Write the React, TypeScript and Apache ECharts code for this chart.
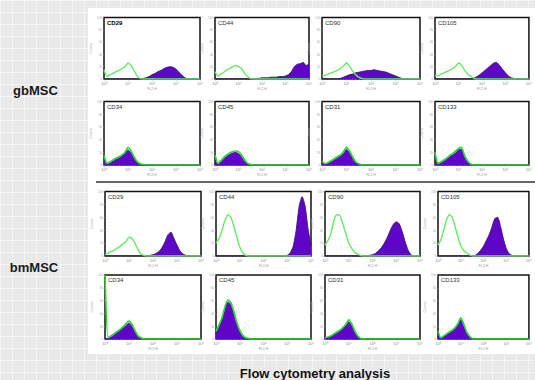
import React, { useEffect, useRef } from 'react';
import * as echarts from 'echarts';

// log10 fluorescence bins (decades 10^0 .. 10^4)
const X_BINS = [0, 0.125, 0.25, 0.375, 0.5, 0.625, 0.75, 0.875, 1, 1.125, 1.25, 1.375, 1.5, 1.625, 1.75, 1.875, 2, 2.125, 2.25, 2.375, 2.5, 2.625, 2.75, 2.875, 3, 3.125, 3.25, 3.375, 3.5, 3.625, 3.75, 3.875, 4];
const X_TICK_LABELS = ['10⁰', '10¹', '10²', '10³', '10⁴'];
const GROUPS = ['gbMSC', 'bmMSC'];
const POSITIVE_MARKERS = ['CD29', 'CD44', 'CD90', 'CD105'];
const NEGATIVE_MARKERS = ['CD34', 'CD45', 'CD31', 'CD133'];
const TITLE = 'Flow cytometry analysis';

// gbMSC – positive markers (green = isotype control, purple = marker)
const gbCD29Control = [15, 4, 7, 9, 12, 14, 17, 20, 26, 22, 14, 5, 1, 0, 0, 0, 0, 0, 0, 0, 0, 0, 0, 0, 0, 0, 0, 0, 0, 0, 0, 0, 0];
const gbCD29Marker = [0, 0, 0, 0, 0, 0, 0, 0, 0, 0, 0, 0, 0, 1, 2, 4, 7, 9, 12, 14, 17, 19, 20, 19, 16, 11, 6, 2, 0, 0, 0, 0, 0];
const gbCD44Control = [12, 5, 8, 11, 15, 17, 20, 22, 20, 17, 10, 4, 1, 0, 0, 0, 0, 0, 0, 0, 0, 0, 0, 0, 0, 0, 0, 0, 0, 0, 0, 0, 0];
const gbCD44Marker = [0, 0, 0, 0, 0, 0, 0, 0, 0, 0, 0, 0, 0, 0, 1, 1, 2, 2, 2, 3, 3, 3, 4, 4, 5, 7, 12, 20, 24, 25, 27, 22, 24];
const gbCD90Control = [5, 6, 8, 10, 12, 14, 17, 21, 26, 21, 13, 7, 3, 1, 0, 0, 0, 0, 0, 0, 0, 0, 0, 0, 0, 0, 0, 0, 0, 0, 0, 0, 0];
const gbCD90Marker = [0, 0, 0, 0, 0, 0, 1, 3, 5, 7, 8, 10, 11, 12, 13, 14, 14, 15, 14, 13, 12, 11, 9, 7, 5, 3, 1, 0, 0, 0, 0, 0, 0];
const gbCD105Control = [6, 5, 8, 10, 12, 14, 17, 20, 26, 23, 15, 9, 5, 2, 0, 0, 0, 0, 0, 0, 0, 0, 0, 0, 0, 0, 0, 0, 0, 0, 0, 0, 0];
const gbCD105Marker = [0, 0, 0, 0, 0, 0, 0, 0, 0, 0, 0, 0, 0, 1, 3, 6, 10, 14, 18, 22, 26, 27, 22, 16, 10, 5, 2, 1, 0, 0, 0, 0, 0];

// gbMSC – negative markers
const gbCD34Control = [15, 3, 5, 8, 11, 13, 16, 20, 28, 22, 13, 6, 2, 1, 0, 0, 0, 0, 0, 0, 0, 0, 0, 0, 0, 0, 0, 0, 0, 0, 0, 0, 0];
const gbCD34Marker = [8, 1, 3, 6, 9, 11, 14, 18, 24, 19, 11, 4, 1, 0, 0, 0, 0, 0, 0, 0, 0, 0, 0, 0, 0, 0, 0, 0, 0, 0, 0, 0, 0];
const gbCD45Control = [16, 3, 7, 12, 16, 19, 21, 22, 21, 16, 9, 3, 1, 0, 0, 0, 0, 0, 0, 0, 0, 0, 0, 0, 0, 0, 0, 0, 0, 0, 0, 0, 0];
const gbCD45Marker = [8, 1, 5, 10, 14, 17, 19, 20, 18, 13, 6, 2, 0, 0, 0, 0, 0, 0, 0, 0, 0, 0, 0, 0, 0, 0, 0, 0, 0, 0, 0, 0, 0];
const gbCD31Control = [6, 2, 4, 7, 10, 13, 16, 21, 28, 22, 13, 5, 2, 0, 0, 0, 0, 0, 0, 0, 0, 0, 0, 0, 0, 0, 0, 0, 0, 0, 0, 0, 0];
const gbCD31Marker = [3, 1, 3, 5, 8, 11, 14, 18, 25, 19, 10, 3, 1, 0, 0, 0, 0, 0, 0, 0, 0, 0, 0, 0, 0, 0, 0, 0, 0, 0, 0, 0, 0];
const gbCD133Control = [20, 3, 5, 8, 11, 15, 18, 22, 26, 28, 16, 7, 2, 0, 0, 0, 0, 0, 0, 0, 0, 0, 0, 0, 0, 0, 0, 0, 0, 0, 0, 0, 0];
const gbCD133Marker = [12, 1, 3, 6, 9, 13, 16, 19, 24, 25, 13, 5, 1, 0, 0, 0, 0, 0, 0, 0, 0, 0, 0, 0, 0, 0, 0, 0, 0, 0, 0, 0, 0];

// bmMSC – positive markers
const bmCD29Control = [2, 4, 7, 9, 12, 15, 19, 23, 29, 27, 20, 10, 3, 1, 0, 0, 0, 0, 0, 0, 0, 0, 0, 0, 0, 0, 0, 0, 0, 0, 0, 0, 0];
const bmCD29Marker = [0, 0, 0, 0, 0, 0, 0, 0, 0, 0, 0, 0, 0, 0, 0, 1, 2, 4, 7, 13, 22, 33, 37, 27, 17, 8, 3, 1, 0, 0, 0, 0, 0];
const bmCD44Control = [20, 27, 40, 55, 64, 60, 46, 30, 14, 5, 1, 0, 0, 0, 0, 0, 0, 0, 0, 0, 0, 0, 0, 0, 0, 0, 0, 0, 0, 0, 0, 0, 0];
const bmCD44Marker = [0, 0, 0, 0, 0, 0, 0, 0, 0, 0, 0, 0, 0, 0, 0, 0, 0, 0, 0, 0, 0, 0, 0, 0, 1, 5, 15, 40, 77, 92, 78, 42, 17];
const bmCD90Control = [17, 24, 35, 55, 64, 63, 50, 35, 20, 12, 6, 3, 1, 0, 0, 0, 0, 0, 0, 0, 0, 0, 0, 0, 0, 0, 0, 0, 0, 0, 0, 0, 0];
const bmCD90Marker = [0, 0, 0, 0, 0, 0, 0, 0, 0, 0, 0, 0, 0, 0, 0, 1, 2, 4, 8, 13, 20, 29, 40, 49, 53, 50, 38, 22, 9, 2, 0, 0, 0];
const bmCD105Control = [17, 25, 40, 56, 64, 60, 46, 30, 16, 9, 5, 2, 0, 0, 0, 0, 0, 0, 0, 0, 0, 0, 0, 0, 0, 0, 0, 0, 0, 0, 0, 0, 0];
const bmCD105Marker = [0, 0, 0, 0, 0, 0, 0, 0, 0, 0, 0, 0, 0, 1, 4, 9, 15, 24, 33, 45, 58, 60, 46, 27, 12, 4, 1, 0, 0, 0, 0, 0, 0];

// bmMSC – negative markers
const bmCD34Control = [100, 2, 5, 8, 12, 15, 19, 24, 28, 23, 13, 5, 2, 0, 0, 0, 0, 0, 0, 0, 0, 0, 0, 0, 0, 0, 0, 0, 0, 0, 0, 0, 0];
const bmCD34Marker = [0, 1, 3, 6, 10, 13, 17, 21, 25, 20, 11, 4, 1, 0, 0, 0, 0, 0, 0, 0, 0, 0, 0, 0, 0, 0, 0, 0, 0, 0, 0, 0, 0];
const bmCD45Control = [12, 22, 33, 50, 61, 57, 43, 26, 14, 6, 2, 1, 0, 0, 0, 0, 0, 0, 0, 0, 0, 0, 0, 0, 0, 0, 0, 0, 0, 0, 0, 0, 0];
const bmCD45Marker = [8, 19, 30, 47, 58, 54, 40, 23, 11, 4, 1, 0, 0, 0, 0, 0, 0, 0, 0, 0, 0, 0, 0, 0, 0, 0, 0, 0, 0, 0, 0, 0, 0];
const bmCD31Control = [2, 3, 5, 8, 11, 14, 18, 23, 30, 24, 13, 5, 1, 0, 0, 0, 0, 0, 0, 0, 0, 0, 0, 0, 0, 0, 0, 0, 0, 0, 0, 0, 0];
const bmCD31Marker = [1, 2, 4, 7, 9, 12, 16, 21, 27, 21, 10, 3, 0, 0, 0, 0, 0, 0, 0, 0, 0, 0, 0, 0, 0, 0, 0, 0, 0, 0, 0, 0, 0];
const bmCD133Control = [12, 2, 5, 8, 11, 14, 18, 24, 33, 24, 12, 5, 1, 0, 0, 0, 0, 0, 0, 0, 0, 0, 0, 0, 0, 0, 0, 0, 0, 0, 0, 0, 0];
const bmCD133Marker = [7, 1, 4, 7, 10, 12, 16, 22, 30, 21, 10, 3, 0, 0, 0, 0, 0, 0, 0, 0, 0, 0, 0, 0, 0, 0, 0, 0, 0, 0, 0, 0, 0];

const PANEL_ROWS = [
  { markers: POSITIVE_MARKERS, controls: [gbCD29Control, gbCD44Control, gbCD90Control, gbCD105Control], stains: [gbCD29Marker, gbCD44Marker, gbCD90Marker, gbCD105Marker], negative: false },
  { markers: NEGATIVE_MARKERS, controls: [gbCD34Control, gbCD45Control, gbCD31Control, gbCD133Control], stains: [gbCD34Marker, gbCD45Marker, gbCD31Marker, gbCD133Marker], negative: true },
  { markers: POSITIVE_MARKERS, controls: [bmCD29Control, bmCD44Control, bmCD90Control, bmCD105Control], stains: [bmCD29Marker, bmCD44Marker, bmCD90Marker, bmCD105Marker], negative: false },
  { markers: NEGATIVE_MARKERS, controls: [bmCD34Control, bmCD45Control, bmCD31Control, bmCD133Control], stains: [bmCD34Marker, bmCD45Marker, bmCD31Marker, bmCD133Marker], negative: true },
];

// layout (pixels)
const COLS_TOP = [{ l: 104, w: 96 }, { l: 215, w: 94 }, { l: 322, w: 98 }, { l: 435, w: 97 }];
const COLS_BOT = [{ l: 105, w: 96 }, { l: 216, w: 95 }, { l: 325, w: 95 }, { l: 438, w: 95 }];
const ROWS = [{ t: 17.5, h: 61.5 }, { t: 101.5, h: 63.5 }, { t: 191.5, h: 64.5 }, { t: 275, h: 64 }];

const FONT = '"Liberation Sans", Arial, sans-serif';
const PURPLE = '#5f05c8';
const PURPLE_EDGE = '#3a1470';
const GREEN_POS = '#66ea66';
const GREEN_NEG = '#22e022';

export default function App() {
  const ref = useRef<HTMLDivElement>(null);

  useEffect(() => {
    if (!ref.current) return;
    const chart = echarts.init(ref.current, undefined, { renderer: 'svg', width: 535, height: 380 });

    const grids: any[] = [];
    const xAxes: any[] = [];
    const yAxes: any[] = [];
    const series: any[] = [];
    const graphics: any[] = [
      { type: 'rect', z: -100, shape: { x: 88, y: 8, width: 447, height: 346 }, style: { fill: '#ffffff' } },
      { type: 'line', z: 10, shape: { x1: 96, y1: 182, x2: 535, y2: 182 }, style: { stroke: '#333', lineWidth: 1.5 } },
      { type: 'text', z: 10, x: 35.5, y: 90, style: { text: GROUPS[0], font: `bold 13px ${FONT}`, fill: '#1a1a1a', align: 'center', verticalAlign: 'middle', textAlign: 'center', textVerticalAlign: 'middle' } },
      { type: 'text', z: 10, x: 34, y: 267, style: { text: GROUPS[1], font: `bold 13px ${FONT}`, fill: '#1a1a1a', align: 'center', verticalAlign: 'middle', textAlign: 'center', textVerticalAlign: 'middle' } },
      { type: 'text', z: 10, x: 315, y: 373, style: { text: TITLE, font: `bold 13px ${FONT}`, fill: '#111', align: 'center', verticalAlign: 'middle', textAlign: 'center', textVerticalAlign: 'middle' } },
    ];

    PANEL_ROWS.forEach((row, r) => {
      const cols = r < 2 ? COLS_TOP : COLS_BOT;
      row.markers.forEach((marker, c) => {
        const idx = grids.length;
        const { l, w } = cols[c];
        const { t, h } = ROWS[r];
        grids.push({ left: l, top: t, width: w, height: h, show: true, borderColor: '#111', borderWidth: 1.5, backgroundColor: 'transparent', containLabel: false });
        xAxes.push({
          gridIndex: idx, type: 'value', min: 0, max: 4, interval: 1,
          name: 'FL2-H', nameLocation: 'middle', nameGap: 8,
          nameTextStyle: { fontSize: 3.5, color: '#999', fontFamily: FONT },
          axisLine: { show: false },
          axisTick: { show: true, length: 1.5, lineStyle: { color: '#888', width: 0.6 } },
          minorTick: { show: true, splitNumber: 8, length: 1, lineStyle: { color: '#888', width: 0.5 } },
          splitLine: { show: false },
          axisLabel: { fontSize: 4, color: '#888', margin: 2.5, fontFamily: FONT, formatter: (v: number) => X_TICK_LABELS[Math.round(v)] ?? '' },
        });
        yAxes.push({
          gridIndex: idx, type: 'value', min: 0, max: 100, interval: 20,
          name: 'Counts', nameLocation: 'middle', nameGap: 7, nameRotate: 90,
          nameTextStyle: { fontSize: 3.5, color: '#aaa', fontFamily: FONT },
          axisLine: { show: false },
          axisTick: { show: true, length: 1.5, lineStyle: { color: '#999', width: 0.6 } },
          splitLine: { show: false },
          axisLabel: { fontSize: 3, color: '#aaa', margin: 2, fontFamily: FONT },
        });
        const control = row.controls[c];
        const stain = row.stains[c];
        series.push({
          type: 'line', xAxisIndex: idx, yAxisIndex: idx, symbol: 'none', silent: true, z: 2, smooth: 0.2,
          data: X_BINS.map((x, i) => [x, stain[i]]),
          lineStyle: { color: row.negative ? PURPLE : PURPLE_EDGE, width: 0.9 },
          areaStyle: { color: PURPLE, opacity: 1 },
        });
        series.push({
          type: 'line', xAxisIndex: idx, yAxisIndex: idx, symbol: 'none', silent: true, z: 3, smooth: 0.2,
          data: X_BINS.map((x, i) => [x, control[i]]),
          lineStyle: { color: row.negative ? GREEN_NEG : GREEN_POS, width: row.negative ? 1.6 : 1.4 },
        });
        const bold = r === 0 && c === 0;
        graphics.push({
          type: 'text', z: 10, x: l + 3, y: t + 5,
          style: { text: marker, font: `${bold ? 'bold ' : ''}6px ${FONT}`, fill: bold ? '#000' : '#333', align: 'left', verticalAlign: 'middle', textAlign: 'left', textVerticalAlign: 'middle' },
        });
      });
    });

    chart.setOption({
      animation: false,
      backgroundColor: 'transparent',
      grid: grids,
      xAxis: xAxes,
      yAxis: yAxes,
      series,
      graphic: { elements: graphics },
    });

    return () => chart.dispose();
  }, []);

  return (
    <div
      style={{
        position: 'fixed', left: 0, top: 0, width: 535, height: 380,
        backgroundColor: '#e9e9e9',
        backgroundImage: 'linear-gradient(to right, rgba(255,255,255,0.55) 1px, transparent 1px), linear-gradient(to bottom, rgba(255,255,255,0.55) 1px, transparent 1px)',
        backgroundSize: '12px 12px',
      }}
    >
      <div ref={ref} style={{ width: 535, height: 380 }} />
    </div>
  );
}
